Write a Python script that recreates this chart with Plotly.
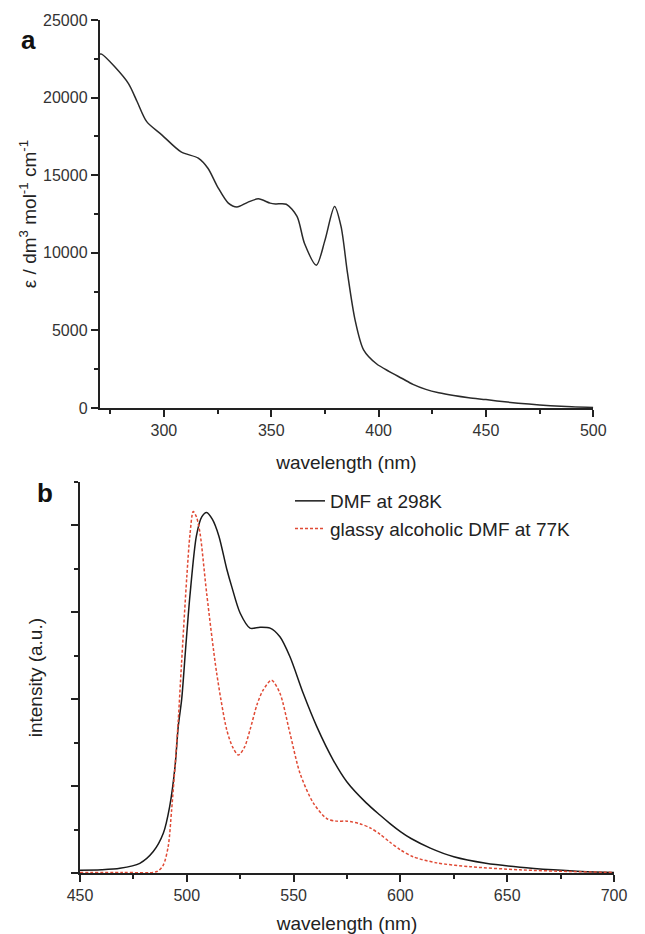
import plotly.graph_objects as go

# ---- Panel a: absorption spectrum ----
abs_wl = [270, 271, 277, 283.5, 287.5, 292, 299, 308, 316, 320.5, 325, 330, 334, 339, 344,
          349.5, 352, 357, 362, 365.5, 371, 375, 379.5, 382.5, 385.5, 389, 393, 399,
          405, 411, 416, 422, 428, 435, 442, 450, 460, 470, 480, 490, 500]
abs_eps = [22800, 22800, 22000, 20900, 19750, 18450, 17600, 16500, 16100, 15450, 14250, 13200,
           12950, 13250, 13480, 13200, 13150, 13130, 12350, 10600, 9200, 10800, 12980, 11700,
           8700, 5700, 3750, 2850, 2350, 1900, 1520, 1200, 980, 800, 660, 540, 380, 250, 150, 80, 40]

# ---- Panel b: emission spectra ----
em_wl_298 = [450, 460, 468.7, 478, 484.3, 489, 492, 494.5, 496, 497.6, 499.5, 501.5, 504.5,
             507, 509.3, 512, 515, 518.7, 521, 525, 529.6, 534.3, 539, 543.6, 548.3, 554.5,
             560.8, 568.6, 575, 584, 590.4, 595, 600, 605, 614, 625, 640, 656, 671.6, 685, 700]
em_int_298 = [0.035, 0.04, 0.057, 0.115, 0.25, 0.46, 0.77, 1.23, 1.69, 2.0, 2.6, 3.2, 3.88,
              4.1, 4.15, 4.07, 3.88, 3.5, 3.3, 2.99, 2.82, 2.83, 2.82, 2.72, 2.49, 2.07,
              1.69, 1.30, 1.05, 0.81, 0.67, 0.575, 0.48, 0.40, 0.29, 0.19, 0.115, 0.07, 0.04, 0.02, 0.01]

em_wl_77 = [450, 470, 486, 489, 491.3, 492.9, 494.5, 496, 497.5, 500, 501.5, 503, 504.5, 506.2,
            509.3, 514, 518.7, 521.5, 524.1, 527, 529.6, 533, 535.8, 539.7, 543.6, 548.3,
            553, 559.2, 565.5, 570, 575, 581, 586, 590.4, 595, 600, 606, 617, 632.6, 656, 680, 700]
em_int_77 = [0.01, 0.01, 0.02, 0.095, 0.31, 0.73, 1.23, 1.76, 2.4, 3.41, 3.9, 4.16, 4.1, 3.91,
             3.22, 2.30, 1.65, 1.45, 1.36, 1.45, 1.65, 1.95, 2.11, 2.22, 2.07, 1.61,
             1.15, 0.81, 0.63, 0.6, 0.6, 0.57, 0.52, 0.45, 0.36, 0.27, 0.19, 0.12, 0.076, 0.04, 0.02, 0.01]

FONT = "Liberation Sans, Arial, sans-serif"
AX = "#222222"
OFF = 8                      # default page margin of the html body
W, H = 645 - OFF, 934 - OFF  # figure size so that it ends at the window's edge


def px(x):
    return (x - OFF) / W


def py(y):
    return 1 - (y - OFF) / H


fig = go.Figure()
fig.add_trace(go.Scatter(x=abs_wl, y=abs_eps, mode="lines",
                         line=dict(color="#2a2a2a", width=1.5, shape="spline", smoothing=0.8),
                         showlegend=False, xaxis="x", yaxis="y"))
fig.add_trace(go.Scatter(x=em_wl_298, y=em_int_298, mode="lines", name="DMF at 298K",
                         line=dict(color="#1a1a1a", width=1.5, shape="spline", smoothing=0.8),
                         xaxis="x2", yaxis="y2"))
fig.add_trace(go.Scatter(x=em_wl_77, y=em_int_77, mode="lines", name="glassy alcoholic DMF at 77K",
                         line=dict(color="#e04a35", width=1.5, dash="3px,2px", shape="spline", smoothing=0.8),
                         xaxis="x2", yaxis="y2"))

axis_common = dict(showline=True, linecolor=AX, linewidth=1.5, ticks="outside", ticklen=7,
                   tickwidth=1.5, tickcolor=AX, showgrid=False, zeroline=False,
                   tickfont=dict(family=FONT, size=16, color="#333333"),
                   tickformat="d", automargin=False)
minor_common = dict(ticks="outside", ticklen=4, tickwidth=1.5, tickcolor=AX)
title_font = dict(family=FONT, size=19, color="#222")

fig.update_layout(
    width=W, height=H,
    margin=dict(l=0, r=0, t=0, b=0),
    paper_bgcolor="white", plot_bgcolor="white",
    font=dict(family=FONT, color="#222222"),
    xaxis=dict(**axis_common, domain=[px(99.5), px(593.3)], range=[270, 500], tick0=300, dtick=50,
               minor=dict(**minor_common, dtick=25, tick0=275), anchor="y",
               title=dict(text="wavelength (nm)", font=title_font, standoff=18)),
    yaxis=dict(**axis_common, domain=[py(408), py(20)], range=[0, 25000], dtick=5000,
               minor=dict(**minor_common, dtick=2500), anchor="x",
               title=dict(text="ε / dm<sup>3</sup> mol<sup>-1</sup> cm<sup>-1</sup>",
                          font=title_font, standoff=1)),
    xaxis2=dict(**axis_common, domain=[px(80), px(614)], range=[450, 700], tick0=450, dtick=50,
                minor=dict(**minor_common, dtick=25, tick0=475), anchor="y2",
                title=dict(text="wavelength (nm)", font=title_font, standoff=14)),
    yaxis2=dict(**axis_common, domain=[py(873.3), py(482)], range=[0, 4.5], dtick=1,
                showticklabels=False,
                minor=dict(**minor_common, dtick=0.5), anchor="x2",
                title=dict(text="intensity (a.u.)", font=title_font, standoff=24)),
    legend=dict(x=px(290), y=py(482), xanchor="left", yanchor="top",
                font=dict(family=FONT, size=19, color="#222"), bgcolor="rgba(0,0,0,0)",
                tracegroupgap=0, itemwidth=30),
    annotations=[
        dict(text="<b>a</b>", x=px(19), y=py(23), xref="paper", yref="paper", showarrow=False,
             font=dict(family=FONT, size=26, color="#111")),
        dict(text="<b>b</b>", x=px(35), y=py(493), xref="paper", yref="paper", showarrow=False,
             font=dict(family=FONT, size=26, color="#111")),
    ],
)

fig.write_html("out.html")
